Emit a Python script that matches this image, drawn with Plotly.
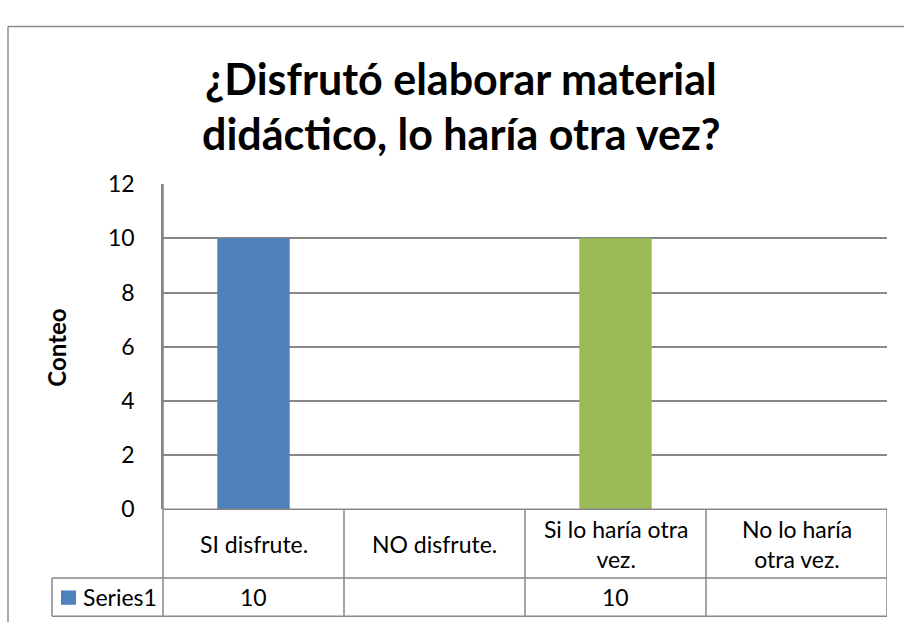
import plotly.graph_objects as go

# ---- data ----
categories = ["SI disfrute.", "NO disfrute.", "Si lo haría otra vez.", "No lo haría otra vez."]
table_labels = ["SI disfrute.", "NO disfrute.", "Si lo haría otra<br>vez.", "No lo haría<br>otra vez."]
values = [10, None, 10, None]
series_name = "Series1"
title_lines = ["¿Disfrutó elaborar material", "didáctico, lo haría otra vez?"]
y_title = "Conteo"
y_ticks = [0, 2, 4, 6, 8, 10, 12]
bar_colors = ["#4F81BD", "#C0504D", "#9BBB59", "#8064A2"]

W, H = 904, 635
FONT = "Lato"
GRID = "#878787"
TXT = 23


def px(x):
    return x / W


def py(y):
    return 1 - y / H


fig = go.Figure()
fig.add_trace(go.Bar(
    x=categories, y=values, width=0.4,
    marker=dict(color=bar_colors, line=dict(width=0)),
    showlegend=False, hoverinfo="x+y",
))

plot_left, plot_right, plot_top, plot_bottom = 163, 887, 177, 517
row_mid, row_bot = 589, 629
tbl_left = 52

shapes = []
line = dict(color=GRID, width=1.5)
frame = dict(color="#8c8c8c", width=1.5)
# outer chart frame (only top and left edges are inside the picture)
shapes.append(dict(type="line", xref="paper", yref="paper", x0=px(8), x1=1,
                   y0=py(12), y1=py(12), line=frame))
shapes.append(dict(type="line", xref="paper", yref="paper", x0=px(8), x1=px(8),
                   y0=0, y1=py(12), line=frame))
# table horizontal lines
shapes.append(dict(type="line", xref="paper", yref="paper", x0=px(plot_left), x1=px(plot_right),
                   y0=py(plot_bottom), y1=py(plot_bottom), line=line))
for yy in (row_mid, row_bot):
    shapes.append(dict(type="line", xref="paper", yref="paper", x0=px(tbl_left), x1=px(plot_right),
                       y0=py(yy), y1=py(yy), line=line))
# table vertical lines
shapes.append(dict(type="line", xref="paper", yref="paper", x0=px(tbl_left), x1=px(tbl_left),
                   y0=py(row_mid), y1=py(row_bot), line=line))
shapes.append(dict(type="line", xref="paper", yref="paper", x0=px(plot_left), x1=px(plot_left),
                   y0=py(plot_top), y1=py(row_bot), line=line))
for i in range(len(categories)):
    shapes.append(dict(type="line", xref="x", yref="paper", x0=i + 0.5, x1=i + 0.5,
                       y0=py(plot_bottom), y1=py(row_bot), line=line))
# legend key
shapes.append(dict(type="rect", xref="paper", yref="paper", x0=px(61), x1=px(76),
                   y0=py(617), y1=py(602), line=dict(width=0), fillcolor=bar_colors[0]))

annotations = []
# title
for i, (t, yc) in enumerate(zip(title_lines, (66, 124))):
    annotations.append(dict(text=t, xref="paper", yref="paper", x=px(461), y=py(yc),
                            xanchor="center", yanchor="middle", showarrow=False,
                            font=dict(family=FONT, size=43, color="#000000", weight="bold")))
# y title
annotations.append(dict(text=y_title, xref="paper", yref="paper", x=px(57), y=py(348),
                        xanchor="center", yanchor="middle", showarrow=False, textangle=-90,
                        font=dict(family=FONT, size=24, color="#000000", weight="bold")))
# table header labels
for c, lab in zip(categories, table_labels):
    annotations.append(dict(text=lab, xref="x", yref="paper", x=c, y=py((plot_bottom + row_mid) / 2),
                            xanchor="center", yanchor="middle", showarrow=False,
                            font=dict(family=FONT, size=TXT, color="#000000")))
# table values row
for c, v in zip(categories, values):
    annotations.append(dict(text="" if v is None else str(v), xref="x", yref="paper", x=c,
                            y=py((row_mid + row_bot) / 2), xanchor="center", yanchor="middle",
                            showarrow=False, font=dict(family=FONT, size=TXT, color="#000000")))
annotations.append(dict(text=series_name, xref="paper", yref="paper", x=px(81),
                        y=py((row_mid + row_bot) / 2), xanchor="left", yanchor="middle",
                        showarrow=False, font=dict(family=FONT, size=TXT, color="#000000")))

fig.update_layout(
    width=W, height=H, margin=dict(l=0, r=0, t=0, b=0),
    paper_bgcolor="white", plot_bgcolor="white",
    font=dict(family=FONT, size=TXT, color="#000000"),
    shapes=shapes, annotations=annotations, bargap=0.6,
    xaxis=dict(domain=[px(plot_left), px(plot_right)], range=[-0.5, len(categories) - 0.5],
               showticklabels=False, showgrid=False, zeroline=False, showline=False,
               fixedrange=True),
    yaxis=dict(domain=[py(plot_bottom), py(plot_top)], range=[0, 12], tickvals=y_ticks,
               showgrid=True, gridcolor=GRID, gridwidth=1.5, zeroline=False,
               showline=True, linecolor=GRID, linewidth=1.5, ticks="",
               ticklabelstandoff=22, tickfont=dict(family=FONT, size=23, color="#000000"),
               fixedrange=True),
)

fig.write_html(
    "out.html",
    config={"displayModeBar": False},
    post_script="document.body.style.margin='0';document.body.style.overflow='hidden';",
)
